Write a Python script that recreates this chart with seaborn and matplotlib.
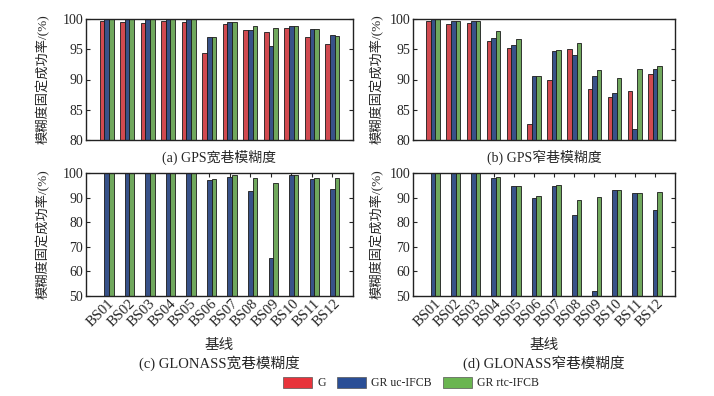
# GPS/GLONASS 宽巷、窄巷模糊度固定成功率 分组柱状图

import numpy as np
import pandas as pd
import matplotlib
matplotlib.use('Agg')
import matplotlib.pyplot as plt
import matplotlib.patches as mpatches
import matplotlib.transforms as mtrans
import seaborn as sns

# 数据
stations = ['BS01', 'BS02', 'BS03', 'BS04', 'BS05', 'BS06',
            'BS07', 'BS08', 'BS09', 'BS10', 'BS11', 'BS12']
schemes = ['G', 'GR uc-IFCB', 'GR rtc-IFCB']

gps_wl_g = [99.7, 99.5, 99.4, 99.7, 99.5, 94.3, 99.1, 98.1, 97.8, 98.5, 97.1, 95.8]
gps_wl_uc = [100, 100, 100, 100, 100, 97.1, 99.5, 98.2, 95.6, 98.9, 98.3, 97.3]
gps_wl_rtc = [100, 100, 100, 100, 100, 97.0, 99.5, 98.9, 98.5, 98.9, 98.3, 97.2]

gps_nl_g = [99.6, 99.2, 99.3, 96.3, 95.2, 82.6, 89.9, 95.0, 88.5, 87.1, 88.1, 90.9]
gps_nl_uc = [100, 99.6, 99.6, 96.8, 95.7, 90.5, 94.7, 94.0, 90.5, 87.7, 81.9, 91.7]
gps_nl_rtc = [100, 99.6, 99.6, 98.0, 96.7, 90.6, 94.8, 96.1, 91.6, 90.3, 91.8, 92.3]

glo_wl_uc = [100, 100, 100, 100, 100, 97.1, 98.2, 92.6, 65.5, 99.0, 97.6, 93.5]
glo_wl_rtc = [100, 100, 100, 100, 100, 97.4, 99.3, 98.1, 96.1, 99.0, 97.8, 98.1]

glo_nl_uc = [100, 100, 100, 98.0, 94.9, 90.0, 94.7, 82.9, 52.0, 93.1, 91.9, 85.1]
glo_nl_rtc = [100, 100, 100, 98.2, 94.9, 90.7, 95.0, 89.0, 90.1, 93.1, 91.9, 92.1]

titles = ['(a) GPS宽巷模糊度', '(b) GPS窄巷模糊度',
          '(c) GLONASS宽巷模糊度', '(d) GLONASS窄巷模糊度']
ylabel = '模糊度固定成功率/(%)'
xlabel = '基线'

colors = ['#e8333b', '#2a4e96', '#6ab550']


def make_df(g, uc, rtc):
    if g is None:
        g = [np.nan] * len(stations)
    rows = []
    for name, vals in zip(schemes, [g, uc, rtc]):
        for s, v in zip(stations, vals):
            rows.append({'基线': s, '方案': name, '成功率': v})
    return pd.DataFrame(rows)


dfs = [make_df(gps_wl_g, gps_wl_uc, gps_wl_rtc),
       make_df(gps_nl_g, gps_nl_uc, gps_nl_rtc),
       make_df(None, glo_wl_uc, glo_wl_rtc),
       make_df(None, glo_nl_uc, glo_nl_rtc)]

sns.set_style('ticks')
plt.rcParams['font.family'] = ['Liberation Serif', 'Noto Sans CJK SC']
plt.rcParams['axes.unicode_minus'] = False

fig = plt.figure(figsize=(7.14, 3.96), dpi=100)

# 子图位置 (像素换算)
W, H = 714, 396
boxes = [(86, 19, 353, 140), (413, 19, 675, 140),
         (86, 173, 353, 296), (413, 173, 675, 296)]
ylims = [(80, 100), (80, 100), (50, 100), (50, 100)]
yticks = [[80, 85, 90, 95, 100], [80, 85, 90, 95, 100],
          [50, 60, 70, 80, 90, 100], [50, 60, 70, 80, 90, 100]]

for i, (df, box) in enumerate(zip(dfs, boxes)):
    x0, y0, x1, y1 = box
    ax = fig.add_axes([x0 / W, 1 - y1 / H, (x1 - x0) / W, (y1 - y0) / H])
    sns.barplot(data=df, x='基线', y='成功率', hue='方案', hue_order=schemes,
                order=stations, palette=colors, width=0.68,
                edgecolor='#1a1a1a', linewidth=0.6, ax=ax, legend=False)
    ax.set_ylim(*ylims[i])
    ax.set_yticks(yticks[i])
    ax.set_xlim(-1.0, 12.0)
    ax.tick_params(direction='in', length=3, width=0.8, labelsize=10,
                   top=True, right=True, pad=2)
    for sp in ax.spines.values():
        sp.set_linewidth(1.0)
        sp.set_color('#222222')
    ax.set_ylabel(ylabel, fontsize=9.5)
    if i % 2 == 0:
        ax.yaxis.set_label_coords(-36 / (x1 - x0), 0.5)
    else:
        ax.yaxis.set_label_coords(-29 / (x1 - x0), 0.5)

    if i < 2:
        ax.set_xlabel('')
        ax.set_xticklabels([])
        ax.tick_params(axis='x', length=0)
        ax.text(0.5, -17 / (y1 - y0), titles[i], transform=ax.transAxes,
                ha='center', va='center', fontsize=10)
    else:
        ax.set_xticks(range(len(stations)))
        ax.set_xticklabels(stations, rotation=45, ha='right', va='center',
                           rotation_mode='anchor', fontsize=10.5)
        ax.tick_params(axis='x', pad=4)
        shift = mtrans.ScaledTranslation(6 / 100, 0, fig.dpi_scale_trans)
        for lab in ax.get_xticklabels():
            lab.set_transform(lab.get_transform() + shift)
        ax.set_xlabel('')
        ax.text(0.5, -49 / (y1 - y0), xlabel, transform=ax.transAxes,
                ha='center', va='center', fontsize=10.5)
        ax.text(0.5, -67 / (y1 - y0), titles[i], transform=ax.transAxes,
                ha='center', va='center', fontsize=10.5)

# 图例
handles = [mpatches.Patch(facecolor=c, edgecolor='#555555', linewidth=0.5)
           for c in colors]
fig.legend(handles, schemes, loc='center', bbox_to_anchor=(0.576, 0.033),
           ncol=3, frameon=False, fontsize=8.5, handlelength=2.4,
           handleheight=1.1, handletextpad=0.45, columnspacing=1.0)

plt.savefig('out.png', dpi=100)
